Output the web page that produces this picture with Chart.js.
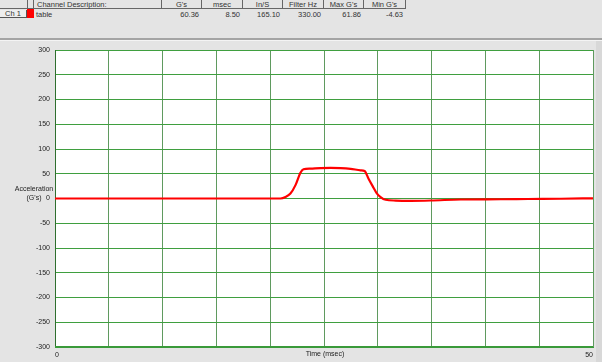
<!DOCTYPE html>
<html>
<head>
<meta charset="utf-8">
<script src="https://cdn.jsdelivr.net/npm/chart.js@4/dist/chart.umd.min.js"></script>
<style>
  html, body { margin: 0; padding: 0; }
  body { width: 602px; height: 362px; background: #e4e4e4; position: relative; overflow: hidden;
         font-family: 'Liberation Sans', Arial, sans-serif; font-size: 7.5px; color: #333; }
  .cell { position: absolute; top: 0; height: 9px; line-height: 9px; border-right: 1px solid #666;
          border-bottom: 1px solid #666; box-sizing: border-box; text-align: center; white-space: nowrap; }
  .val { position: absolute; top: 10px; height: 9px; line-height: 9px; text-align: right; white-space: nowrap; }
  #sep { position: absolute; left: 0; top: 38px; width: 602px; height: 2px; background: #a4a4a4; border-bottom: 1px solid #f4f4f4; }
  #strip { position: absolute; right: 0; top: 41px; width: 6px; height: 321px; background: #d8d8d8; }
  #wrap { position: absolute; left: 0; top: 0; width: 602px; height: 362px; }
  #ytitle { position: absolute; left: 10px; top: 184px; width: 48px; text-align: center; font-size: 7px; line-height: 9px; color: #222; }
</style>
</head>
<body>
<div id="head"></div>
<div id="sep"></div>
<div id="strip"></div>
<div id="wrap"><canvas id="chart" width="602" height="362"></canvas></div>
<div id="ytitle">Acceleration<br>(G's)</div>
<script>
// table row
const columns = ["G's", 'msec', 'In/S', 'Filter Hz', "Max G's", "Min G's"];
const columnValues = ['60.36', '8.50', '165.10', '330.00', '61.86', '-4.63'];
const columnEdges = [162, 202, 243, 283, 324, 364, 406];

// trace
const times = [0, 5, 10, 15, 20, 20.95, 21.42, 21.88, 22.35, 22.81, 23.09, 23.74, 24.67, 25.61, 26.54,
  27.47, 28.4, 28.77, 29.14, 29.52, 29.89, 30.26, 30.73, 31.66, 33.05, 34.92, 37.71, 41.43, 43.95, 47.02, 50];
const accel = [0, 0, 0, 0, 0, 0, 3, 10, 27, 52, 59, 60.5, 61.5, 61.86, 61.5,
  60, 57, 55.5, 40, 25, 11, 3, -2.5, -4.2, -4.63, -4, -2, -1.5, -1, -0.5, 0.4];

const xTicks = [0, 50];
const yMin = -300, yMax = 300, yStep = 50;

const head = document.querySelector('#head');
const addDiv = (cls, left, width, text, extra) => {
  const d = document.createElement('div');
  d.className = cls;
  d.style.left = left + 'px';
  d.style.width = width + 'px';
  d.textContent = text;
  if (extra) Object.assign(d.style, extra);
  head.appendChild(d);
  return d;
};
addDiv('cell', 0, 28, '');
addDiv('cell', 28, 6, '');
addDiv('cell', 34, 128, 'Channel Description:', { textAlign: 'left', paddingLeft: '3px' });
columns.forEach((c, i) => {
  addDiv('cell', columnEdges[i], columnEdges[i + 1] - columnEdges[i], c);
  addDiv('val', columnEdges[i], columnEdges[i + 1] - columnEdges[i] - 3, columnValues[i]);
});
addDiv('val', 0, 27, 'Ch 1', { textAlign: 'center', background: '#eeeeee', borderBottom: '1px solid #555', borderRight: '1px solid #555', boxSizing: 'border-box', height: '8px', lineHeight: '8px' });
addDiv('val', 27, 7, '', { background: '#ff0000', top: '9px', height: '9px' });
addDiv('val', 36, 40, 'table', { textAlign: 'left' });

const plotBg = {
  id: 'plotBg',
  beforeDraw(chart) {
    const { ctx, chartArea: a } = chart;
    ctx.save();
    ctx.fillStyle = '#ffffff';
    ctx.fillRect(a.left, a.top, a.right - a.left, a.bottom - a.top);
    ctx.restore();
  },
};

const bottomBorder = {
  id: 'bottomBorder',
  afterDatasetsDraw(chart) {
    const { ctx, chartArea: a } = chart;
    ctx.save();
    ctx.strokeStyle = '#3a9a3a';
    ctx.lineWidth = 2;
    ctx.beginPath();
    ctx.moveTo(a.left, a.bottom);
    ctx.lineTo(a.right, a.bottom);
    ctx.stroke();
    ctx.restore();
  },
};

new Chart(document.querySelector('#chart'), {
  type: 'line',
  data: {
    datasets: [{
      data: times.map((t, i) => ({ x: t, y: accel[i] })),
      borderColor: '#ff0000',
      borderWidth: 2.2,
      pointRadius: 0,
      tension: 0.3,
      cubicInterpolationMode: 'monotone',
    }],
  },
  options: {
    responsive: false,
    animation: false,
    layout: { padding: { top: 50, right: 9, bottom: 0, left: 0 } },
    plugins: { legend: { display: false }, tooltip: { enabled: false } },
    scales: {
      x: {
        type: 'linear',
        min: 0,
        max: 50,
        afterFit: (s) => { s.height = 15; },
        afterBuildTicks: (s) => {
          s.ticks = [];
          for (let v = 0; v <= 50; v += 5) s.ticks.push({ value: v });
        },
        grid: { color: '#5f9a5f', lineWidth: 1, drawTicks: false },
        border: { color: '#3a9a3a', width: 1 },
        ticks: {
          color: '#222',
          font: { family: 'Liberation Sans', size: 7 },
          padding: 4,
          align: 'inner',
          maxRotation: 0,
          autoSkip: false,
          callback: (v) => (xTicks.includes(v) ? String(v) : ''),
        },
        title: { display: false },
      },
      y: {
        min: yMin,
        max: yMax,
        afterFit: (s) => { s.width = 55; },
        grid: { color: '#3f9f3f', lineWidth: 1, drawTicks: false },
        border: { color: '#2f6f2f', width: 1 },
        ticks: {
          stepSize: yStep,
          color: '#222',
          font: { family: 'Liberation Sans', size: 7 },
          padding: 5,
        },
      },
    },
  },
  plugins: [plotBg, bottomBorder],
});

// x axis title as text under the plot
const xt = document.createElement('div');
xt.textContent = 'Time (msec)';
Object.assign(xt.style, { position: 'absolute', left: '290px', top: '350px', width: '70px', textAlign: 'center', fontSize: '7px', color: '#222' });
document.body.appendChild(xt);
</script>
</body>
</html>
